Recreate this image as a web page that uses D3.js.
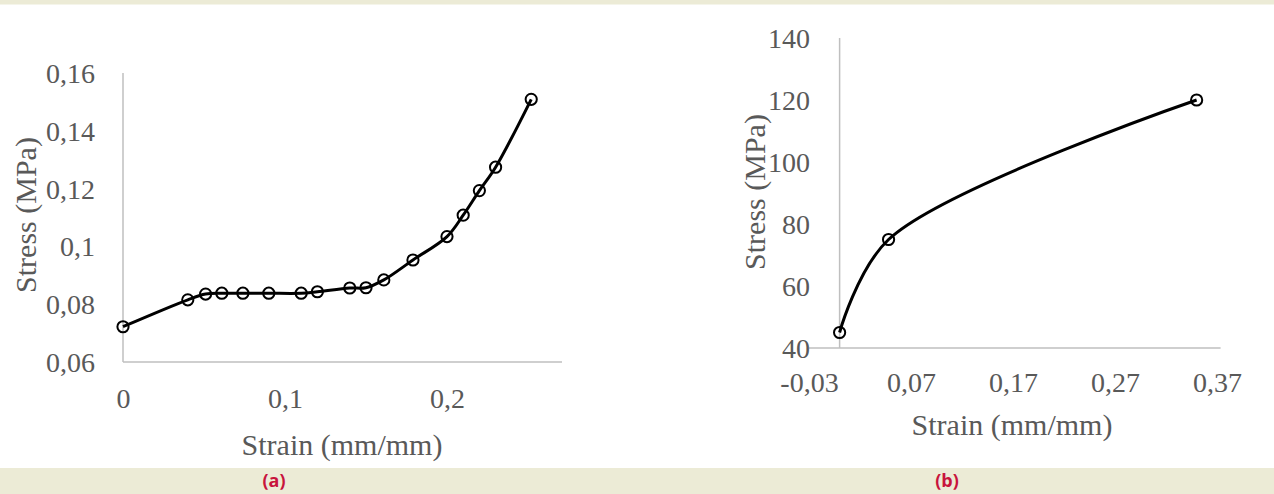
<!DOCTYPE html>
<html>
<head>
    <meta charset="utf-8" />
    <title>Stress-Strain Curves</title>
    <script src="https://d3js.org/d3.v7.min.js" charset="utf-8"></script>
    <style>
        body { margin: 0; background: #fff; }
        .tick text { font-family: "Liberation Serif", "Times New Roman", serif; fill: #595959; }
        .axis-title { font-family: "Liberation Serif", "Times New Roman", serif; fill: #595959; }
    </style>
</head>
<body>
    <script>
        // Panel (a) data
        const strainA = [0, 0.04, 0.051, 0.061, 0.074, 0.09, 0.11, 0.12, 0.14, 0.15, 0.161, 0.179, 0.2, 0.21, 0.22, 0.23, 0.252];
        const stressA = [0.0722, 0.0815, 0.0835, 0.0838, 0.0838, 0.0838, 0.0838, 0.0843, 0.0856, 0.0857, 0.0884, 0.0953, 0.1034, 0.1108, 0.1193, 0.1274, 0.1509];
        const xTicksA = [0, 0.1, 0.2];
        const yTicksA = [0.06, 0.08, 0.1, 0.12, 0.14, 0.16];

        // Panel (b) data
        const strainB = [0, 0.048, 0.35];
        const stressB = [45, 75, 120];
        const xTicksB = [-0.03, 0.07, 0.17, 0.27, 0.37];
        const yTicksB = [40, 60, 80, 100, 120, 140];

        const W = 1274, H = 494;
        const locale = d3.formatLocale({ decimal: ",", thousands: ".", grouping: [3], currency: ["", ""], minus: "-" });
        const fmt = locale.format("~g");

        const svg = d3.select("body").append("svg")
            .attr("width", W)
            .attr("height", H);

        // page bands
        svg.append("rect").attr("x", 0).attr("y", 0).attr("width", W).attr("height", 4.5).attr("fill", "#ecebd6");
        svg.append("rect").attr("x", 0).attr("y", 468).attr("width", W).attr("height", H - 468).attr("fill", "#ecebd6");

        function drawPanel(cfg) {
            const x = d3.scaleLinear().domain(cfg.xDomain).range(cfg.xRange);
            const y = d3.scaleLinear().domain(cfg.yDomain).range(cfg.yRange);
            const g = svg.append("g");

            // axis lines
            g.append("line")
                .attr("x1", x(cfg.xDomain[0])).attr("x2", x(cfg.xDomain[1]))
                .attr("y1", y(cfg.yDomain[0])).attr("y2", y(cfg.yDomain[0]))
                .attr("stroke", "#bfbfbf").attr("stroke-width", 1.5);
            g.append("line")
                .attr("x1", x(cfg.yCross)).attr("x2", x(cfg.yCross))
                .attr("y1", y(cfg.yDomain[0])).attr("y2", y(cfg.yDomain[1]))
                .attr("stroke", "#bfbfbf").attr("stroke-width", 1.5);

            // tick labels
            const xAxis = g.append("g")
                .attr("transform", `translate(0,${y(cfg.yDomain[0])})`)
                .call(d3.axisBottom(x).tickValues(cfg.xTicks).tickFormat(fmt).tickSize(0).tickPadding(cfg.xPad));
            const yAxis = g.append("g")
                .attr("transform", `translate(${cfg.yLabelX},0)`)
                .call(d3.axisLeft(y).tickValues(cfg.yTicks).tickFormat(fmt).tickSize(0).tickPadding(0));
            [xAxis, yAxis].forEach(a => {
                a.select(".domain").remove();
                a.selectAll("text").attr("font-size", 28).attr("font-family", null);
            });
            yAxis.selectAll("text").attr("dy", "0.34em");

            // axis titles
            g.append("text")
                .attr("class", "axis-title")
                .attr("x", cfg.xTitle[0]).attr("y", cfg.xTitle[1])
                .attr("text-anchor", "middle")
                .attr("font-size", 30)
                .text("Strain (mm/mm)");
            g.append("text")
                .attr("class", "axis-title")
                .attr("transform", `translate(${cfg.yTitle[0]},${cfg.yTitle[1]}) rotate(-90)`)
                .attr("text-anchor", "middle")
                .attr("dy", "0.35em")
                .attr("font-size", 30)
                .text("Stress (MPa)");

            // curve
            const pts = cfg.xs.map((v, i) => [v, cfg.ys[i]]);
            g.append("path")
                .datum(pts)
                .attr("fill", "none")
                .attr("stroke", "#000")
                .attr("stroke-width", 3)
                .attr("stroke-linejoin", "round")
                .attr("d", d3.line().x(d => x(d[0])).y(d => y(d[1])).curve(d3.curveCatmullRom.alpha(0.5)));

            // markers
            g.selectAll("circle")
                .data(pts)
                .enter()
                .append("circle")
                .attr("cx", d => x(d[0]))
                .attr("cy", d => y(d[1]))
                .attr("r", 5.6)
                .attr("fill", "none")
                .attr("stroke", "#000")
                .attr("stroke-width", 2);

            // panel caption
            svg.append("text")
                .attr("x", cfg.caption[0]).attr("y", cfg.caption[1])
                .attr("text-anchor", "middle")
                .attr("font-family", "'Open Sans', 'Noto Sans', sans-serif")
                .attr("font-weight", "bold")
                .attr("font-size", 18)
                .attr("fill", "#c8143c")
                .text(cfg.label);
        }

        drawPanel({
            xs: strainA, ys: stressA, xTicks: xTicksA, yTicks: yTicksA,
            xDomain: [0, 0.271], xRange: [123, 562],
            yDomain: [0.06, 0.16], yRange: [362, 73],
            yCross: 0, yLabelX: 95, xPad: 26,
            xTitle: [342, 455], yTitle: [25, 215],
            caption: [274, 487], label: "(a)"
        });

        drawPanel({
            xs: strainB, ys: stressB, xTicks: xTicksB, yTicks: yTicksB,
            xDomain: [-0.03, 0.3735], xRange: [809, 1220.6],
            yDomain: [40, 140], yRange: [348, 38],
            yCross: 0, yLabelX: 810, xPad: 24,
            xTitle: [1012, 435], yTitle: [754, 192],
            caption: [947, 487], label: "(b)"
        });
    </script>
</body>
</html>
